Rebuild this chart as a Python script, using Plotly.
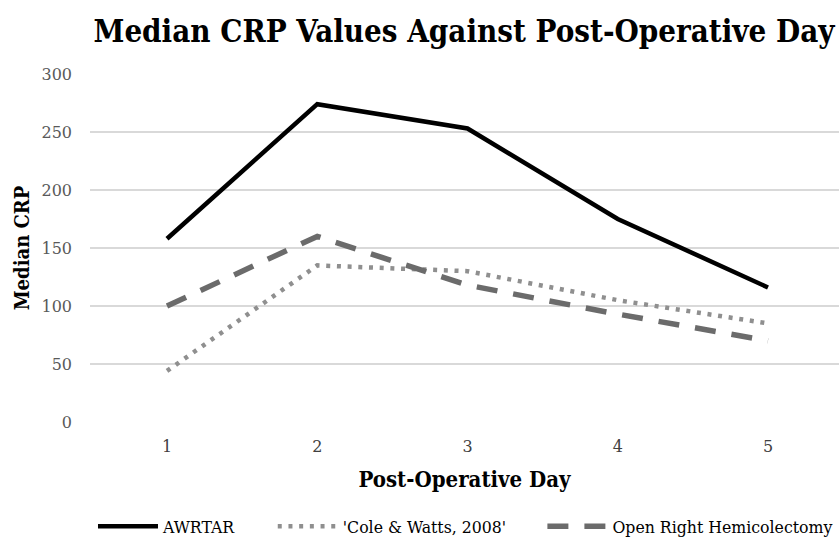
import plotly.graph_objects as go

days = [1, 2, 3, 4, 5]
day_labels = ["1", "2", "3", "4", "5"]
awrtar = [158, 274, 253, 175, 116]
cole_watts = [44, 135, 130, 105, 85]
open_rh = [100, 160, 118, 93, 70]

SERIF_C = "DejaVu Serif Condensed, Liberation Serif, serif"
SERIF = "DejaVu Serif, serif"

fig = go.Figure()
fig.add_trace(go.Scatter(x=days, y=awrtar, mode="lines", name="AWRTAR", legend="legend",
                         line=dict(color="#000000", width=4.5)))
fig.add_trace(go.Scatter(x=days, y=cole_watts, mode="lines", name="'Cole & Watts, 2008'",
                         legend="legend2",
                         line=dict(color="#8f8f8f", width=4.5, dash="4px,6.7px")))
fig.add_trace(go.Scatter(x=days, y=open_rh, mode="lines", name="Open Right Hemicolectomy",
                         legend="legend3",
                         line=dict(color="#6b6b6b", width=5.5, dash="21px,16px")))

leg_common = dict(orientation="h", yanchor="middle", y=-0.3, xanchor="left",
                  font=dict(family=SERIF_C, size=17.5, color="#000000"),
                  itemwidth=60, bgcolor="rgba(0,0,0,0)")

fig.update_layout(
    width=839, height=538,
    paper_bgcolor="white", plot_bgcolor="white",
    margin=dict(l=90, r=0, t=74, b=116, autoexpand=False),
    title=dict(text="<b>Median CRP Values Against Post-Operative Day</b>",
               x=0.553, xanchor="center", y=0.942, yanchor="middle",
               font=dict(family=SERIF_C, size=31, color="#000000")),
    xaxis=dict(range=[0.4875, 5.4725], tickmode="array", tickvals=days, ticktext=day_labels,
               showgrid=False, zeroline=False, showline=False, ticks="", automargin=False,
               tickfont=dict(family=SERIF, size=16, color="#404040"), ticklabelstandoff=13,
               title=dict(text="<b>Post-Operative Day</b>", standoff=16,
                          font=dict(family=SERIF_C, size=22, color="#000000"))),
    yaxis=dict(range=[0, 300], tickvals=[0, 50, 100, 150, 200, 250, 300],
               showgrid=True, gridcolor="#d9d9d9", gridwidth=1.5, zeroline=False,
               tickfont=dict(family=SERIF, size=16, color="#595959"), automargin=False,
               ticks="", ticklabelstandoff=17,
               title=dict(text="<b>Median CRP</b>", standoff=6,
                          font=dict(family=SERIF_C, size=20, color="#000000"))),
    legend=dict(leg_common, x=0.004),
    legend2=dict(leg_common, x=0.244),
    legend3=dict(leg_common, x=0.604),
    showlegend=True,
)

fig.write_html("out.html", config={"displayModeBar": False},
               post_script="document.body.style.margin='0';document.body.style.overflow='hidden';")
